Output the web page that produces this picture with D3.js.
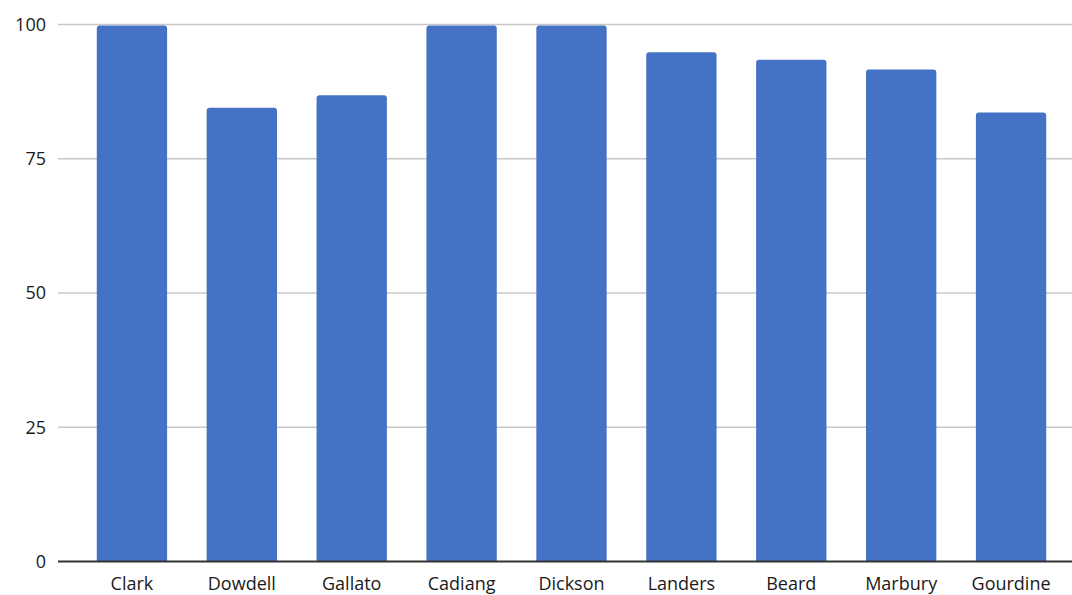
<!DOCTYPE html>
<meta charset="utf-8">
<style>
body { margin: 0; background: #fff; }
.grid line { stroke: #c8c8c8; stroke-width: 1.5px; }
.ylab text { font: 18px "Open Sans", sans-serif; fill: #1a1a1a; text-anchor: end; }
.xlab text { font: 18px "Open Sans", sans-serif; fill: #1a1a1a; text-anchor: middle; }
</style>
<svg width="1072" height="595"></svg>
<script src="https://d3js.org/d3.v7.min.js"></script>
<script>

var names = ["Clark", "Dowdell", "Gallato", "Cadiang", "Dickson", "Landers", "Beard", "Marbury", "Gourdine"];
var scores = [100, 84.7, 87, 100, 100, 95, 93.6, 91.8, 83.8];
var yTicks = [0, 25, 50, 75, 100];

var svg = d3.select("svg");

var x = d3.scaleBand()
    .domain(names)
    .range([77, 1066])
    .paddingInner(0.36)
    .paddingOuter(0.18);

var y = d3.scaleLinear()
    .domain([0, 100])
    .range([561.5, 24.5]);

// gridlines
svg.append("g")
    .attr("class", "grid")
  .selectAll("line")
  .data(yTicks.filter(function(d) { return d > 0; }))
  .enter().append("line")
    .attr("x1", 58)
    .attr("x2", 1072)
    .attr("y1", function(d) { return y(d); })
    .attr("y2", function(d) { return y(d); });

svg.append("g")
    .attr("class", "ylab")
  .selectAll("text")
  .data(yTicks)
  .enter().append("text")
    .attr("x", 46)
    .attr("y", function(d) { return y(d); })
    .attr("dy", "0.35em")
    .text(function(d) { return d; });

// bars with rounded tops
var r = 3;
svg.append("g")
  .selectAll("path")
  .data(names)
  .enter().append("path")
    .attr("fill", "#4472c4")
    .attr("d", function(d, i) {
      var x0 = x(d), w = x.bandwidth(), t = y(scores[i]) + 1, b = y(0);
      return "M" + x0 + "," + b +
        "V" + (t + r) +
        "Q" + x0 + "," + t + " " + (x0 + r) + "," + t +
        "H" + (x0 + w - r) +
        "Q" + (x0 + w) + "," + t + " " + (x0 + w) + "," + (t + r) +
        "V" + b + "Z";
    });

// baseline
svg.append("line")
    .attr("x1", 58)
    .attr("x2", 1072)
    .attr("y1", y(0))
    .attr("y2", y(0))
    .attr("stroke", "#333")
    .attr("stroke-width", 2);

svg.append("g")
    .attr("class", "xlab")
  .selectAll("text")
  .data(names)
  .enter().append("text")
    .attr("x", function(d) { return x(d) + x.bandwidth() / 2; })
    .attr("y", 590)
    .text(function(d) { return d; });

</script>
